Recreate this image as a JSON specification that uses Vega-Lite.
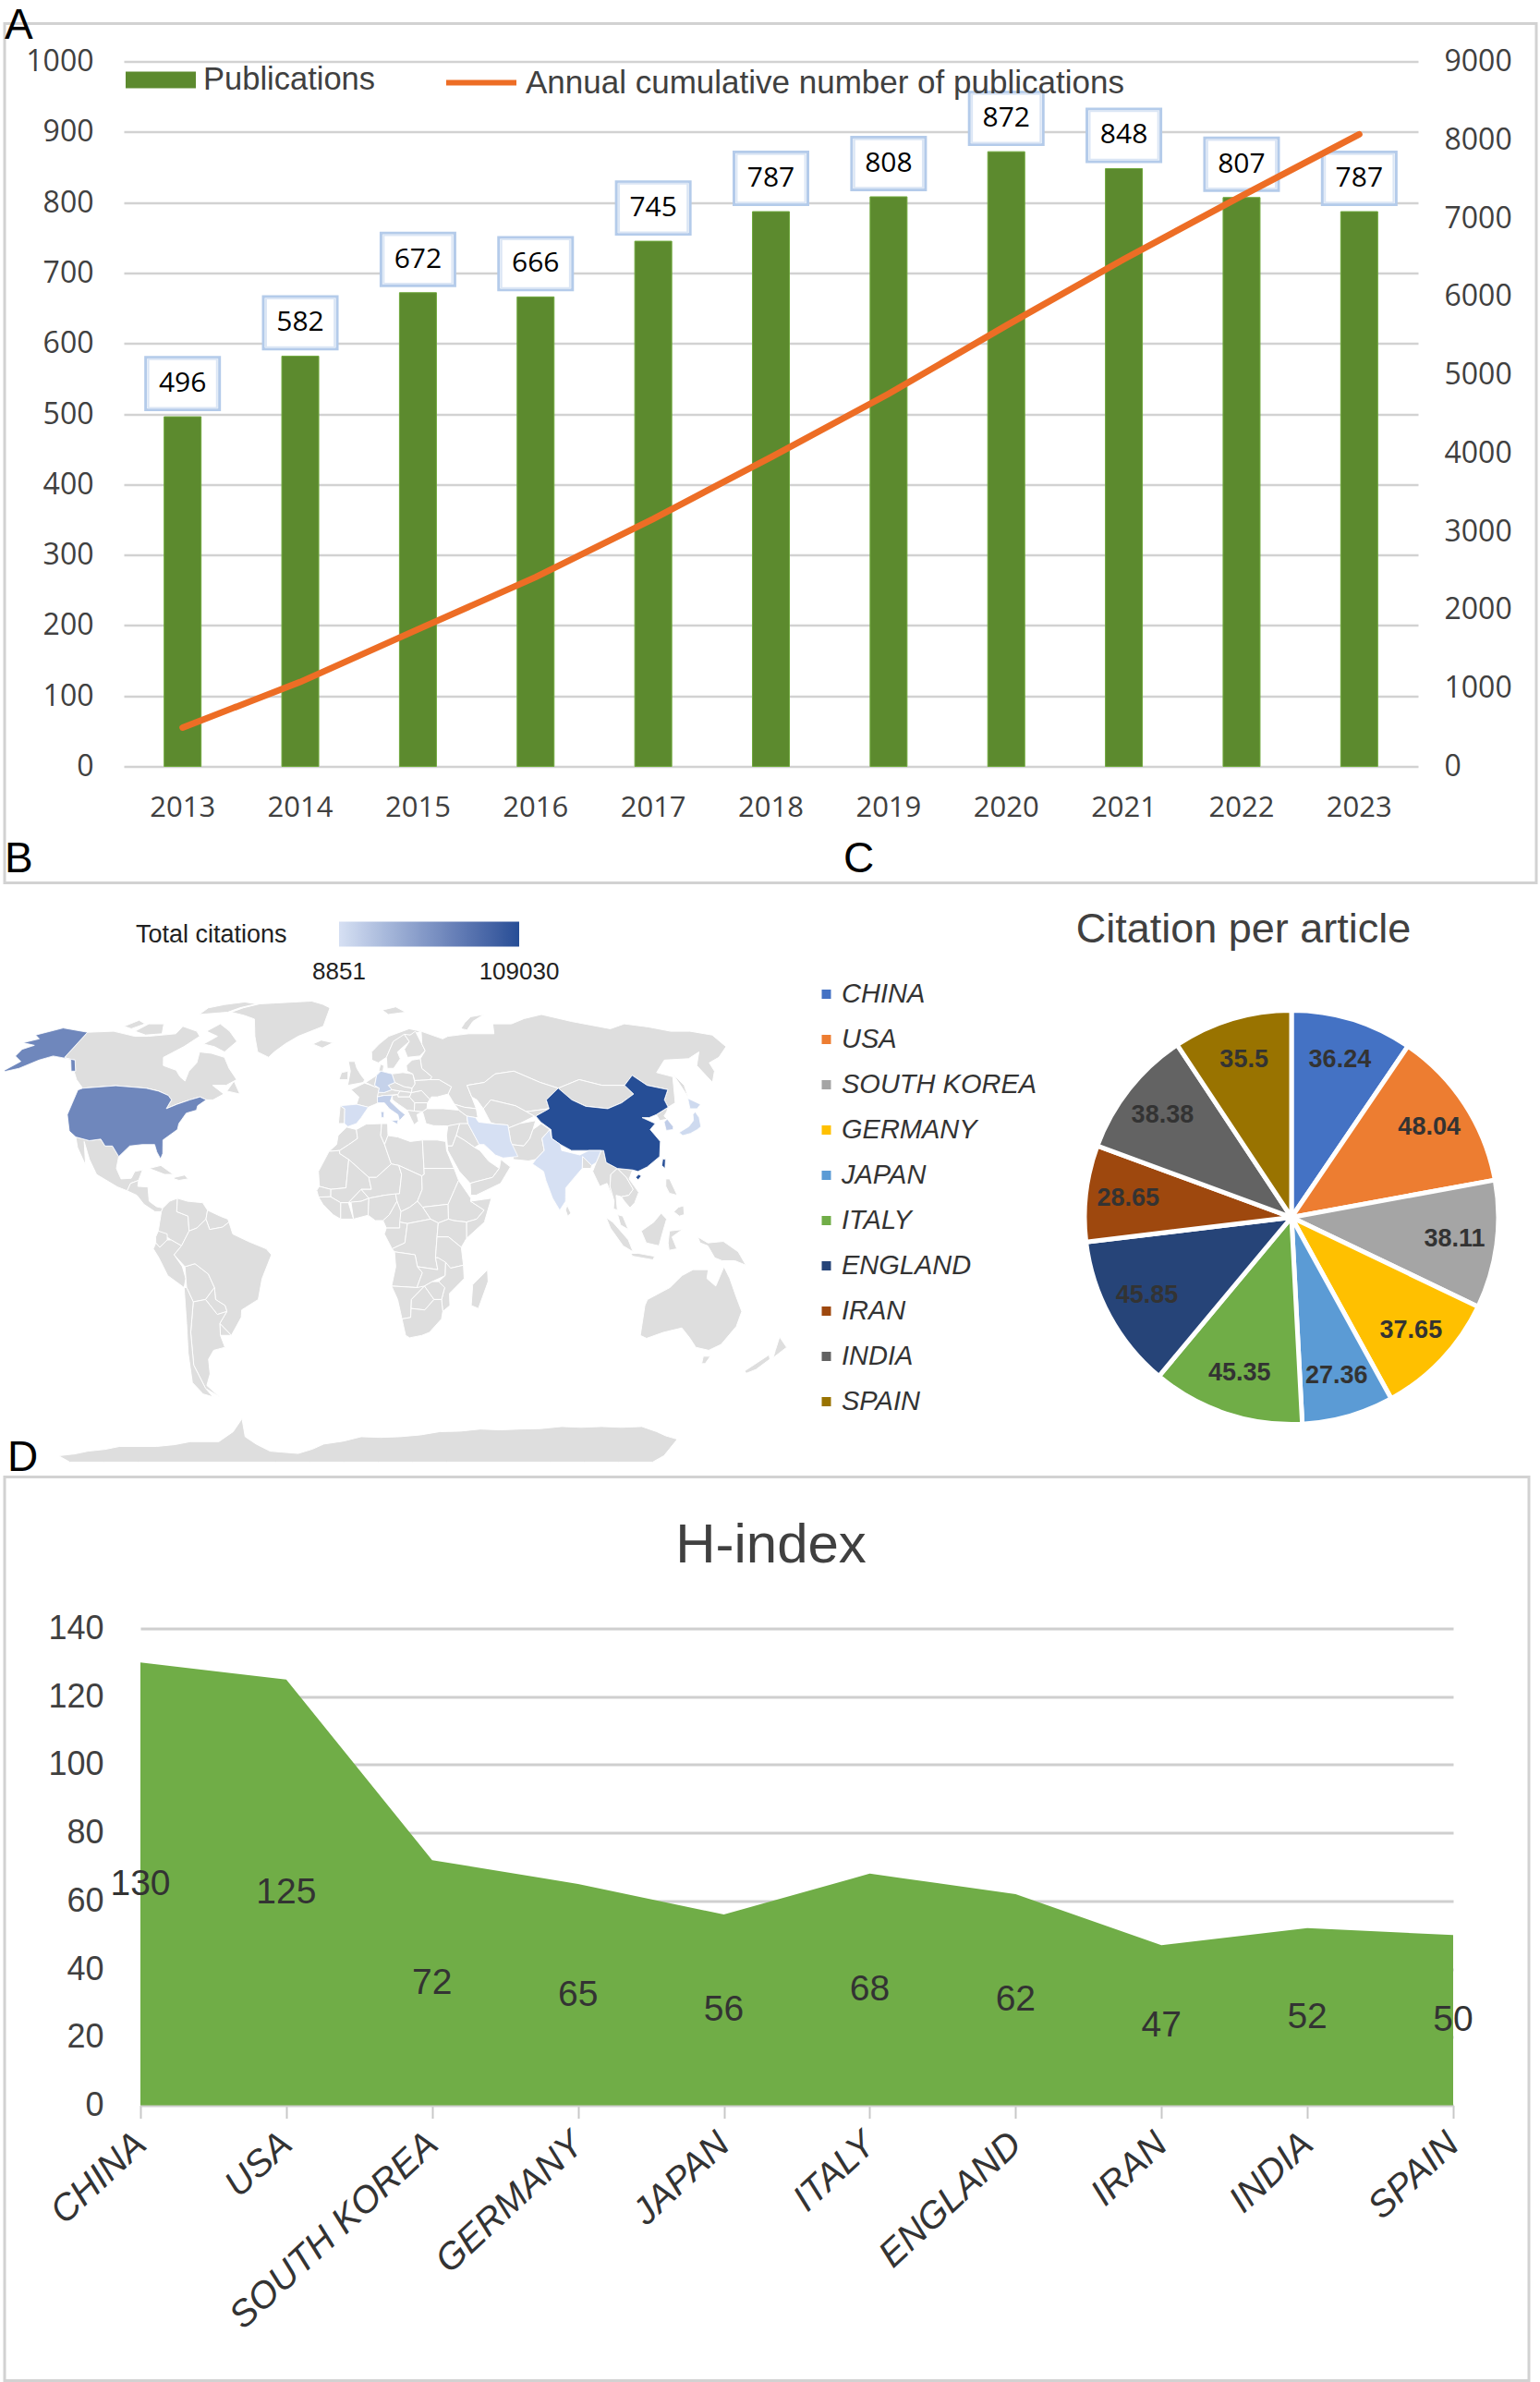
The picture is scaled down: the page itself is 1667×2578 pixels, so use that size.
{
  "$schema": "https://vega.github.io/schema/vega-lite/v6.json",
  "background": "white",
  "padding": {"left": 3, "top": 2.5, "right": 0, "bottom": 0},
  "spacing": -53,
  "config": {
    "view": {"stroke": "#d2d2d2", "strokeWidth": 3},
    "font": "Liberation Sans",
    "title": {"font": "Liberation Sans", "fontWeight": "normal", "color": "black"}
  },
  "datasets": {
    "pubs": [
      {"year": "2013", "n": 496, "cum": 496},
      {"year": "2014", "n": 582, "cum": 1078},
      {"year": "2015", "n": 672, "cum": 1750},
      {"year": "2016", "n": 666, "cum": 2416},
      {"year": "2017", "n": 745, "cum": 3161},
      {"year": "2018", "n": 787, "cum": 3948},
      {"year": "2019", "n": 808, "cum": 4756},
      {"year": "2020", "n": 872, "cum": 5628},
      {"year": "2021", "n": 848, "cum": 6476},
      {"year": "2022", "n": 807, "cum": 7283},
      {"year": "2023", "n": 787, "cum": 8070}
    ],
    "cpa": [
      {"rank": 1, "country": "CHINA", "v": 36.24},
      {"rank": 2, "country": "USA", "v": 48.04},
      {"rank": 3, "country": "SOUTH KOREA", "v": 38.11},
      {"rank": 4, "country": "GERMANY", "v": 37.65},
      {"rank": 5, "country": "JAPAN", "v": 27.36},
      {"rank": 6, "country": "ITALY", "v": 45.35},
      {"rank": 7, "country": "ENGLAND", "v": 45.85},
      {"rank": 8, "country": "IRAN", "v": 28.65},
      {"rank": 9, "country": "INDIA", "v": 38.38},
      {"rank": 10, "country": "SPAIN", "v": 35.5}
    ],
    "hindex": [
      {"country": "CHINA", "h": 130},
      {"country": "USA", "h": 125},
      {"country": "SOUTH KOREA", "h": 72},
      {"country": "GERMANY", "h": 65},
      {"country": "JAPAN", "h": 56},
      {"country": "ITALY", "h": 68},
      {"country": "ENGLAND", "h": 62},
      {"country": "IRAN", "h": 47},
      {"country": "INDIA", "h": 52},
      {"country": "SPAIN", "h": 50}
    ],
    "world": [
      {"type":"Feature","properties":{"name":"Canada"},"geometry":{"type":"Polygon","coordinates":[[[-141,60],[-141,69.6],[-128,70],[-115,68],[-108,68],[-95,69],[-94,72],[-85,70],[-82,68],[-87,64],[-94,60],[-92,57],[-85,55.3],[-82,53],[-79,51.5],[-79,55],[-77,58],[-78,62],[-72,61.5],[-65,60],[-61,56],[-56,52],[-60,50],[-66,50],[-60,47],[-64,45],[-67,45],[-70,46],[-74,45],[-79,43.5],[-83,42],[-82,45],[-84,46.5],[-89,48],[-95,49],[-123,49],[-128,52],[-133,56],[-137,59],[-141,60]]]}},
      {"type":"Feature","properties":{"name":"Baffin"},"geometry":{"type":"Polygon","coordinates":[[[-80,70],[-75,73],[-68,70],[-62,66],[-66,62],[-72,64],[-78,65],[-73,68],[-80,70]]]}},
      {"type":"Feature","properties":{"name":"Victoria"},"geometry":{"type":"Polygon","coordinates":[[[-117,70],[-113,73],[-105,73],[-102,69],[-110,68.5],[-117,70]]]}},
      {"type":"Feature","properties":{"name":"Ellesmere"},"geometry":{"type":"Polygon","coordinates":[[[-90,77],[-88,80],[-70,83],[-62,82],[-75,78],[-90,77]]]}},
      {"type":"Feature","properties":{"name":"Banks"},"geometry":{"type":"Polygon","coordinates":[[[-125,72],[-120,74.5],[-115,73],[-120,71],[-125,72]]]}},
      {"type":"Feature","properties":{"name":"Newfoundland"},"geometry":{"type":"Polygon","coordinates":[[[-59,48],[-57,51.5],[-53,47],[-59,48]]]}},
      {"type":"Feature","properties":{"name":"Alaska","citations":68000},"geometry":{"type":"Polygon","coordinates":[[[-168,65.5],[-162,67],[-166,68.5],[-156,71.3],[-141,69.6],[-141,60],[-137,59],[-133,55],[-131,55],[-135,59],[-147,60.5],[-152,59],[-158,56],[-165,54.5],[-160,58.5],[-165,60.5],[-165,63],[-161,64.5],[-168,65.5]]]}},
      {"type":"Feature","properties":{"name":"USA","citations":68000},"geometry":{"type":"Polygon","coordinates":[[[-124.7,48.4],[-123,49],[-95,49],[-89,48],[-84,46.5],[-82,45],[-83,42],[-79,43.5],[-74,45],[-70,46],[-67,45],[-70,43],[-70,41.5],[-74,40.5],[-76,37],[-76,35],[-81,31.5],[-80,27],[-80.5,25.2],[-82.5,27.5],[-84,30],[-89,30],[-94,29.5],[-97.5,26],[-101,29.5],[-104,29.5],[-106.5,31.8],[-111,31.3],[-117,32.5],[-120.5,34.5],[-124,40],[-124.7,48.4]]]}},
      {"type":"Feature","properties":{"name":"Mexico"},"geometry":{"type":"Polygon","coordinates":[[[-117,32.5],[-111,31.3],[-106.5,31.8],[-104,29.5],[-101,29.5],[-97.5,26],[-97.5,22],[-95,18.5],[-91,18.7],[-90,21],[-87,21.5],[-88,18],[-91,17],[-92,14.5],[-96,15.8],[-105,20],[-109,25],[-113,31],[-110,23],[-115,29],[-117,32.5]]]}},
      {"type":"Feature","properties":{"name":"Central America"},"geometry":{"type":"Polygon","coordinates":[[[-92,14.5],[-91,17],[-88,18],[-88,16],[-84,15.8],[-83,11],[-80,9.2],[-77.5,8.7],[-78,7.5],[-80.5,7.5],[-85,10],[-88,13],[-92,14.5]]]}},
      {"type":"Feature","properties":{"name":"Cuba"},"geometry":{"type":"Polygon","coordinates":[[[-84.5,22],[-80,23],[-74.5,20],[-78,20],[-84.5,22]]]}},
      {"type":"Feature","properties":{"name":"Hispaniola"},"geometry":{"type":"Polygon","coordinates":[[[-74,19],[-70,19.8],[-68.5,18.5],[-72,18],[-74,18.5],[-74,19]]]}},
      {"type":"Feature","properties":{"name":"Greenland"},"geometry":{"type":"Polygon","coordinates":[[[-73,78],[-60,82],[-30,83.5],[-18,80],[-20,72],[-32,68],[-42,62],[-44,60],[-50,62],[-54,68],[-58,75],[-73,78]]]}},
      {"type":"Feature","properties":{"name":"Colombia"},"geometry":{"type":"Polygon","coordinates":[[[-77.5,8.7],[-75,11],[-72,12],[-72,7.5],[-67.5,6],[-67,1],[-70,-4],[-74,-2],[-79,1],[-78,7.5],[-77.5,8.7]]]}},
      {"type":"Feature","properties":{"name":"Venezuela"},"geometry":{"type":"Polygon","coordinates":[[[-72,12],[-68,11],[-62,10.5],[-60,8],[-60.5,5],[-64,2],[-67,1],[-67.5,6],[-72,7.5],[-72,12]]]}},
      {"type":"Feature","properties":{"name":"Guianas"},"geometry":{"type":"Polygon","coordinates":[[[-60,8],[-55,6],[-52,5],[-51.5,4],[-54,2.3],[-59,1.5],[-60.5,5],[-60,8]]]}},
      {"type":"Feature","properties":{"name":"Ecuador"},"geometry":{"type":"Polygon","coordinates":[[[-80,-1],[-79,1],[-75.5,0],[-75.5,-2],[-78.5,-4.5],[-80,-3],[-80,-1]]]}},
      {"type":"Feature","properties":{"name":"Peru"},"geometry":{"type":"Polygon","coordinates":[[[-81,-5],[-80,-3],[-78.5,-4.5],[-75.5,-2],[-74,-2],[-70,-4],[-73,-7],[-70,-11],[-69,-15],[-70,-18],[-76,-14],[-79,-8],[-81,-5]]]}},
      {"type":"Feature","properties":{"name":"Bolivia"},"geometry":{"type":"Polygon","coordinates":[[[-69,-11],[-65,-10],[-60,-13.5],[-58,-18],[-62,-22],[-67,-22.8],[-69,-18],[-69,-11]]]}},
      {"type":"Feature","properties":{"name":"Brazil"},"geometry":{"type":"Polygon","coordinates":[[[-73,-7],[-70,-4],[-67,1],[-64,2],[-60.5,5],[-59,1.5],[-54,2.3],[-51.5,4],[-50,0],[-44,-2.5],[-37,-5],[-35,-7],[-39,-15],[-41,-22],[-48,-25.5],[-48.5,-28],[-53.5,-34],[-57.5,-30],[-54,-26],[-54.5,-24],[-58,-22],[-58,-18],[-60,-13.5],[-65,-10],[-69,-11],[-73,-7]]]}},
      {"type":"Feature","properties":{"name":"Paraguay"},"geometry":{"type":"Polygon","coordinates":[[[-62,-22],[-58,-18],[-58,-22],[-54.5,-24],[-54,-26],[-58,-27],[-62,-22]]]}},
      {"type":"Feature","properties":{"name":"Uruguay"},"geometry":{"type":"Polygon","coordinates":[[[-58,-34],[-57.5,-30],[-53.5,-34],[-58,-34]]]}},
      {"type":"Feature","properties":{"name":"Argentina"},"geometry":{"type":"Polygon","coordinates":[[[-70,-52],[-72,-44],[-70,-33],[-67,-22.8],[-62,-22],[-58,-27],[-54,-26],[-57.5,-30],[-58,-34],[-57,-38],[-62,-39],[-65,-42],[-66,-47],[-69,-51],[-65,-55],[-70,-52]]]}},
      {"type":"Feature","properties":{"name":"Chile"},"geometry":{"type":"Polygon","coordinates":[[[-75,-50],[-73,-40],[-71,-30],[-70,-18],[-69,-18],[-67,-22.8],[-70,-33],[-72,-44],[-70,-52],[-68,-55],[-72,-54],[-75,-50]]]}},
      {"type":"Feature","properties":{"name":"Morocco"},"geometry":{"type":"Polygon","coordinates":[[[-13,27.7],[-10,30],[-9.5,33],[-6,35.8],[-2,35],[-1.5,32],[-5,30],[-8.7,28],[-13,27.7]]]}},
      {"type":"Feature","properties":{"name":"Mauritania"},"geometry":{"type":"Polygon","coordinates":[[[-17,21],[-13,27.7],[-8.7,28],[-8.7,27],[-5,25],[-6,15.5],[-12,15],[-16.5,16],[-17,21]]]}},
      {"type":"Feature","properties":{"name":"Algeria"},"geometry":{"type":"Polygon","coordinates":[[[-8.7,28],[-5,30],[-1.5,32],[-2,35],[2,36.8],[8.5,37],[8,33],[9.5,30],[12,23.5],[6,19],[3,19],[-5,25],[-8.7,27],[-8.7,28]]]}},
      {"type":"Feature","properties":{"name":"Tunisia"},"geometry":{"type":"Polygon","coordinates":[[[8,33],[8.5,37],[11,37],[11,33],[9.5,30],[8,33]]]}},
      {"type":"Feature","properties":{"name":"Libya"},"geometry":{"type":"Polygon","coordinates":[[[9.5,30],[11,33],[15,32.5],[20,31],[25,31.5],[25,20],[24,19.5],[15,23],[12,23.5],[9.5,30]]]}},
      {"type":"Feature","properties":{"name":"Egypt"},"geometry":{"type":"Polygon","coordinates":[[[25,31.5],[31,31.5],[34.5,31],[34.5,28],[37,22],[25,22],[25,31.5]]]}},
      {"type":"Feature","properties":{"name":"Mali"},"geometry":{"type":"Polygon","coordinates":[[[-12,15],[-6,15.5],[-5,25],[3,19],[4,15],[0,15],[-5,10.5],[-8,10.5],[-12,12.5],[-12,15]]]}},
      {"type":"Feature","properties":{"name":"Senegal"},"geometry":{"type":"Polygon","coordinates":[[[-17.5,14.7],[-16.5,16],[-12,15],[-12,12.5],[-16.7,12.4],[-17.5,14.7]]]}},
      {"type":"Feature","properties":{"name":"Guinea"},"geometry":{"type":"Polygon","coordinates":[[[-16.7,12.4],[-12,12.5],[-8,10.5],[-8,5],[-11,6.5],[-15,10],[-16.7,12.4]]]}},
      {"type":"Feature","properties":{"name":"Burkina"},"geometry":{"type":"Polygon","coordinates":[[[-5,10.5],[0,15],[3,12],[0,11],[-5,10.5]]]}},
      {"type":"Feature","properties":{"name":"Ivory Coast"},"geometry":{"type":"Polygon","coordinates":[[[-8,10.5],[-5,10.5],[-3,5],[-8,5],[-8,10.5]]]}},
      {"type":"Feature","properties":{"name":"Ghana"},"geometry":{"type":"Polygon","coordinates":[[[-3,5],[-4,10.7],[0,11],[3,12],[2.7,6.3],[-3,5]]]}},
      {"type":"Feature","properties":{"name":"Niger"},"geometry":{"type":"Polygon","coordinates":[[[3,19],[6,19],[12,23.5],[15,23],[16,20],[15,13.5],[9,13],[3,12],[0,15],[4,15],[3,19]]]}},
      {"type":"Feature","properties":{"name":"Nigeria"},"geometry":{"type":"Polygon","coordinates":[[[2.7,6.3],[3,12],[9,13],[13.5,13.5],[14,11],[11,6.5],[8.5,4.5],[5.5,4.5],[2.7,6.3]]]}},
      {"type":"Feature","properties":{"name":"Chad"},"geometry":{"type":"Polygon","coordinates":[[[15,13.5],[16,20],[15,23],[24,19.5],[24,15],[22,11],[19,9],[15.5,7.5],[14,11],[13.5,13.5],[15,13.5]]]}},
      {"type":"Feature","properties":{"name":"Sudan"},"geometry":{"type":"Polygon","coordinates":[[[24,19.5],[25,20],[25,22],[37,22],[38.5,18],[36.5,14.5],[34,10],[24,9],[22,11],[24,15],[24,19.5]]]}},
      {"type":"Feature","properties":{"name":"South Sudan"},"geometry":{"type":"Polygon","coordinates":[[[24,9],[34,10],[34,5],[30,3.7],[27,5],[24,9]]]}},
      {"type":"Feature","properties":{"name":"Ethiopia"},"geometry":{"type":"Polygon","coordinates":[[[34,10],[36.5,14.5],[38.5,18],[43,12],[42.8,11],[48,8],[45,5],[41,4],[36,4.5],[34,5],[34,10]]]}},
      {"type":"Feature","properties":{"name":"Somalia"},"geometry":{"type":"Polygon","coordinates":[[[42.8,11],[51,12],[48,4],[41,-1.5],[41,4],[45,5],[48,8],[42.8,11]]]}},
      {"type":"Feature","properties":{"name":"Cameroon"},"geometry":{"type":"Polygon","coordinates":[[[8.5,4.5],[11,6.5],[14,11],[15.5,7.5],[15,2],[9.8,2],[8.5,4.5]]]}},
      {"type":"Feature","properties":{"name":"CAR"},"geometry":{"type":"Polygon","coordinates":[[[15.5,7.5],[19,9],[22,11],[24,9],[27,5],[18,3.5],[15,4],[15.5,7.5]]]}},
      {"type":"Feature","properties":{"name":"Gabon"},"geometry":{"type":"Polygon","coordinates":[[[9,0],[9.8,2],[15,2],[15,4],[18,3.5],[17,-3],[12,-5],[9,0]]]}},
      {"type":"Feature","properties":{"name":"DRC"},"geometry":{"type":"Polygon","coordinates":[[[12,-5],[17,-3],[18,3.5],[27,5],[30,3.7],[29.5,-1],[29,-8],[30,-12],[22,-11],[21,-7],[13,-6],[12,-5]]]}},
      {"type":"Feature","properties":{"name":"Kenya"},"geometry":{"type":"Polygon","coordinates":[[[29.5,-1],[30,3.7],[34,5],[36,4.5],[41,4],[41,-1.5],[39,-4.5],[34,-1],[29.5,-1]]]}},
      {"type":"Feature","properties":{"name":"Tanzania"},"geometry":{"type":"Polygon","coordinates":[[[29.5,-1],[34,-1],[39,-4.5],[40,-10.5],[35,-11.5],[30,-8],[29,-8],[29.5,-1]]]}},
      {"type":"Feature","properties":{"name":"Angola"},"geometry":{"type":"Polygon","coordinates":[[[13,-6],[21,-7],[22,-11],[24,-13],[22,-18],[12,-17.5],[13.5,-11],[13,-6]]]}},
      {"type":"Feature","properties":{"name":"Zambia"},"geometry":{"type":"Polygon","coordinates":[[[22,-11],[30,-12],[29,-8],[30,-8],[33,-9.5],[33,-14],[28,-16],[24,-18],[22,-18],[24,-13],[22,-11]]]}},
      {"type":"Feature","properties":{"name":"Mozambique"},"geometry":{"type":"Polygon","coordinates":[[[33,-9.5],[35,-11.5],[40,-10.5],[40.5,-15],[35,-20],[35.5,-24],[32.8,-26],[32,-22],[33,-18],[30.5,-16],[33,-14],[33,-9.5]]]}},
      {"type":"Feature","properties":{"name":"Namibia"},"geometry":{"type":"Polygon","coordinates":[[[12,-17.5],[22,-18],[25,-17.5],[20,-22],[20,-28],[16.5,-28.5],[14.5,-22],[12,-17.5]]]}},
      {"type":"Feature","properties":{"name":"Botswana"},"geometry":{"type":"Polygon","coordinates":[[[20,-22],[25,-17.5],[29,-22],[25.5,-25.5],[20,-25],[20,-22]]]}},
      {"type":"Feature","properties":{"name":"Zimbabwe"},"geometry":{"type":"Polygon","coordinates":[[[25,-17.5],[28,-16],[30.5,-16],[33,-18],[32,-22],[29,-22],[25,-17.5]]]}},
      {"type":"Feature","properties":{"name":"South Africa"},"geometry":{"type":"Polygon","coordinates":[[[16.5,-28.5],[20,-28],[20,-25],[25.5,-25.5],[29,-22],[32,-22],[32.8,-26],[32.5,-28.5],[28,-33],[25,-34],[20,-34.8],[18.3,-34],[16.5,-28.5]]]}},
      {"type":"Feature","properties":{"name":"Madagascar"},"geometry":{"type":"Polygon","coordinates":[[[44,-17],[49.5,-12],[50,-16],[47,-25],[44,-24],[44,-17]]]}},
      {"type":"Feature","properties":{"name":"Spain","citations":10000},"geometry":{"type":"Polygon","coordinates":[[[-9,43],[-2,43.5],[3,42.5],[0,39],[-2,37],[-5.5,36],[-7,37],[-7,42],[-9,43]]]}},
      {"type":"Feature","properties":{"name":"Portugal"},"geometry":{"type":"Polygon","coordinates":[[[-9.5,37],[-9,43],[-7,42],[-7,37],[-9.5,37]]]}},
      {"type":"Feature","properties":{"name":"France"},"geometry":{"type":"Polygon","coordinates":[[[-4.5,48.5],[1.5,50.8],[8,49],[7.5,44],[3,42.5],[-2,43.5],[-1,46],[-4.5,48.5]]]}},
      {"type":"Feature","properties":{"name":"Benelux"},"geometry":{"type":"Polygon","coordinates":[[[2,51],[4,52],[7,53.5],[7,50],[6,49.5],[2,51]]]}},
      {"type":"Feature","properties":{"name":"Germany","citations":18000},"geometry":{"type":"Polygon","coordinates":[[[6,50],[7,53.5],[9,55],[14,54],[15,51],[12,50],[13.5,48.5],[10,47.5],[7.5,47.6],[8,49],[6,50]]]}},
      {"type":"Feature","properties":{"name":"Austria"},"geometry":{"type":"Polygon","coordinates":[[[7.5,47.6],[10,47.5],[13.5,48.5],[17,48],[16,46.8],[10,46.5],[7,46],[7.5,47.6]]]}},
      {"type":"Feature","properties":{"name":"Italy","citations":20000},"geometry":{"type":"Polygon","coordinates":[[[7,44],[7,46],[10,46.5],[13.5,46.5],[12.5,44.5],[16,41.7],[18.5,40],[16,38],[15.5,40],[12,42],[10,44],[7,44]]]}},
      {"type":"Feature","properties":{"name":"Sicily","citations":20000},"geometry":{"type":"Polygon","coordinates":[[[12.5,38],[15.5,38.2],[15,36.8],[12.5,38]]]}},
      {"type":"Feature","properties":{"name":"Sardinia","citations":20000},"geometry":{"type":"Polygon","coordinates":[[[8.3,41],[9.7,41],[9.5,39],[8.5,39],[8.3,41]]]}},
      {"type":"Feature","properties":{"name":"UK"},"geometry":{"type":"Polygon","coordinates":[[[-6,50],[-5,55],[-6,58.5],[-3,58.5],[-2,56],[0,53.5],[1.5,52],[1,51],[-6,50]]]}},
      {"type":"Feature","properties":{"name":"Ireland"},"geometry":{"type":"Polygon","coordinates":[[[-10,52],[-9,54.5],[-6,55],[-6,52],[-10,52]]]}},
      {"type":"Feature","properties":{"name":"Iceland"},"geometry":{"type":"Polygon","coordinates":[[[-24,65],[-20,66.5],[-14,65.5],[-19,63.5],[-24,65]]]}},
      {"type":"Feature","properties":{"name":"Norway"},"geometry":{"type":"Polygon","coordinates":[[[5,59],[5,62],[14,68],[25,71],[31,70],[25,68.5],[16,66],[12,60],[8,58],[5,59]]]}},
      {"type":"Feature","properties":{"name":"Sweden"},"geometry":{"type":"Polygon","coordinates":[[[12,56],[12,60],[16,66],[22,68.8],[24,66],[17.5,62],[18.5,59.5],[15,56],[12,56]]]}},
      {"type":"Feature","properties":{"name":"Finland"},"geometry":{"type":"Polygon","coordinates":[[[22,60],[21,63],[24,66],[22,68.8],[25,68.5],[28,70],[30,65],[31,62.5],[28,60.5],[22,60]]]}},
      {"type":"Feature","properties":{"name":"Denmark"},"geometry":{"type":"Polygon","coordinates":[[[8,55],[9,57.5],[10.5,57],[10,55],[8,55]]]}},
      {"type":"Feature","properties":{"name":"Poland"},"geometry":{"type":"Polygon","coordinates":[[[14,54],[19,54.5],[23.5,54],[24,50.5],[22.5,49],[19,49.5],[15,51],[14,54]]]}},
      {"type":"Feature","properties":{"name":"Czechia"},"geometry":{"type":"Polygon","coordinates":[[[12,50],[15,51],[19,49.5],[22.5,49],[22,47.5],[17,48],[13.5,48.5],[12,50]]]}},
      {"type":"Feature","properties":{"name":"Hungary"},"geometry":{"type":"Polygon","coordinates":[[[16,46.8],[17,48],[22,47.5],[21,46],[16,46],[16,46.8]]]}},
      {"type":"Feature","properties":{"name":"Balkans"},"geometry":{"type":"Polygon","coordinates":[[[13.5,46.5],[16,46.8],[16,46],[21,46],[23,44],[22.5,41.2],[19.5,41.5],[16,43.5],[13.5,45],[13.5,46.5]]]}},
      {"type":"Feature","properties":{"name":"Greece"},"geometry":{"type":"Polygon","coordinates":[[[19.5,41.5],[22.5,41.2],[26,41],[23.5,40],[24,37.8],[22,36.6],[21,38.5],[19.5,41.5]]]}},
      {"type":"Feature","properties":{"name":"Romania"},"geometry":{"type":"Polygon","coordinates":[[[21,46],[22,47.5],[26.5,48.2],[29.7,45.2],[28.5,44],[23,44],[21,46]]]}},
      {"type":"Feature","properties":{"name":"Bulgaria"},"geometry":{"type":"Polygon","coordinates":[[[23,44],[28.5,44],[28,42],[26,41],[22.5,41.2],[23,44]]]}},
      {"type":"Feature","properties":{"name":"Ukraine"},"geometry":{"type":"Polygon","coordinates":[[[22.5,49],[24,50.5],[24,51.7],[31,52],[35,52],[40,49.5],[38,47],[33,46],[30.5,46],[29.7,45.2],[26.5,48.2],[22,47.5],[22.5,49]]]}},
      {"type":"Feature","properties":{"name":"Belarus"},"geometry":{"type":"Polygon","coordinates":[[[23.5,54],[21,55],[21,57],[24,59],[28,59.5],[28,56],[32,53],[31,52],[24,51.7],[23.5,54]]]}},
      {"type":"Feature","properties":{"name":"Turkey"},"geometry":{"type":"Polygon","coordinates":[[[26,41],[28,42],[35,42],[41.5,41.5],[44.5,39.5],[44.5,37],[36,36.2],[30,36.3],[27,37],[26,41]]]}},
      {"type":"Feature","properties":{"name":"Russia"},"geometry":{"type":"Polygon","coordinates":[[[28,56],[28,59.5],[31,62.5],[30,65],[31,70],[41,67],[44,68],[55,69],[68,69],[70,73],[80,73],[100,77],[113,74],[130,71],[140,73],[160,70],[170,70],[179,68.5],[179,64],[170,60],[163,58],[162,55],[157,51],[156,57],[163,62],[155,59.5],[143,59],[135,54.5],[141,53],[135,44],[131,42.5],[131,45],[135,48.5],[127,50],[123,53.5],[117,50],[107,50],[98,52],[87,49],[80,51],[70,55],[61,54],[55,51],[47,50],[48,46],[49,42],[44,42.5],[40,43.5],[38,47],[40,49.5],[35,52],[31,52],[32,53],[28,56]]]}},
      {"type":"Feature","properties":{"name":"Kazakhstan"},"geometry":{"type":"Polygon","coordinates":[[[47,50],[55,51],[61,54],[70,55],[80,51],[87,49],[80,45],[80,42],[70,41],[66,43],[56,45],[52,42],[50,45],[48,46],[47,50]]]}},
      {"type":"Feature","properties":{"name":"Uzbekistan"},"geometry":{"type":"Polygon","coordinates":[[[52,42],[56,45],[66,43],[70,41],[73,39.5],[66,37],[61,35.5],[54,37.3],[52,42]]]}},
      {"type":"Feature","properties":{"name":"Kyrgyzstan"},"geometry":{"type":"Polygon","coordinates":[[[70,41],[80,42],[75,37.5],[73,39.5],[70,41]]]}},
      {"type":"Feature","properties":{"name":"Mongolia"},"geometry":{"type":"Polygon","coordinates":[[[87,49],[98,52],[107,50],[117,50],[119,47],[112,44],[105,42],[96,42.8],[91,45],[87,49]]]}},
      {"type":"Feature","properties":{"name":"China","citations":109030},"geometry":{"type":"Polygon","coordinates":[[[73.5,39.5],[80,42],[80,45],[87,49],[91,45],[96,42.8],[105,42],[112,44],[119,47],[117,50],[123,53.5],[127,50],[135,48.5],[131,45],[131,42.5],[124.5,40],[121,39],[118,39],[122.5,37],[119.5,35],[122,31],[120,26],[114,22.5],[110,21],[108,21.5],[102,22],[98,24],[98,28],[92,28],[85,28],[81,30],[78,32],[78.5,35],[75,37.5],[73.5,39.5]]]}},
      {"type":"Feature","properties":{"name":"Taiwan","citations":109030},"geometry":{"type":"Polygon","coordinates":[[[120,23],[121,25.2],[122,25],[121,22],[120,23]]]}},
      {"type":"Feature","properties":{"name":"Hainan","citations":109030},"geometry":{"type":"Polygon","coordinates":[[[108.7,19],[110,20],[111,19.5],[109.5,18.2],[108.7,19]]]}},
      {"type":"Feature","properties":{"name":"North Korea"},"geometry":{"type":"Polygon","coordinates":[[[124.5,40],[131,42.5],[129.5,41],[127.5,39.5],[128.3,38.5],[125,38],[124.5,40]]]}},
      {"type":"Feature","properties":{"name":"South Korea","citations":21000},"geometry":{"type":"Polygon","coordinates":[[[126,34.7],[126.5,37.5],[128.3,38.5],[129.5,36],[129,35],[126,34.7]]]}},
      {"type":"Feature","properties":{"name":"Honshu","citations":13000},"geometry":{"type":"Polygon","coordinates":[[[131,34],[136,36],[139,38],[140,40],[141.5,41],[142,39],[141,36],[139,35],[135.5,33.7],[132,33],[131,34]]]}},
      {"type":"Feature","properties":{"name":"Hokkaido","citations":13000},"geometry":{"type":"Polygon","coordinates":[[[140,42],[141.5,45.5],[145.5,43.5],[143,42],[140,42]]]}},
      {"type":"Feature","properties":{"name":"Sakhalin"},"geometry":{"type":"Polygon","coordinates":[[[142,46],[142,54],[143.5,50],[142,46]]]}},
      {"type":"Feature","properties":{"name":"Iran","citations":9000},"geometry":{"type":"Polygon","coordinates":[[[44.5,39.5],[48,39],[49,37.5],[54,37],[61,36.5],[61,31],[63,26],[57,25.5],[54,26.5],[50,30],[48,30],[46,34],[44.5,37],[44.5,39.5]]]}},
      {"type":"Feature","properties":{"name":"Caucasus"},"geometry":{"type":"Polygon","coordinates":[[[40,43.5],[44,42.5],[49,42],[49,39],[48,39],[44.5,39.5],[41.5,41.5],[40,43.5]]]}},
      {"type":"Feature","properties":{"name":"Iraq"},"geometry":{"type":"Polygon","coordinates":[[[39,33],[41,37],[44.5,37],[46,34],[48,30],[46,29],[42,31.5],[39,33]]]}},
      {"type":"Feature","properties":{"name":"Syria"},"geometry":{"type":"Polygon","coordinates":[[[36,36.2],[41,37],[39,33],[37,29.5],[35,29.5],[35,33],[36,36.2]]]}},
      {"type":"Feature","properties":{"name":"Saudi Arabia"},"geometry":{"type":"Polygon","coordinates":[[[35,29.5],[37,29.5],[39,33],[42,31.5],[46,29],[48,28],[51,24.5],[55,22],[52,19],[45,17.5],[43,17],[39,21],[35,28],[35,29.5]]]}},
      {"type":"Feature","properties":{"name":"Oman"},"geometry":{"type":"Polygon","coordinates":[[[43,17],[45,17.5],[52,19],[55,22],[56,25],[59.5,22.5],[55,17],[45,13],[43,13],[43,17]]]}},
      {"type":"Feature","properties":{"name":"Afghanistan"},"geometry":{"type":"Polygon","coordinates":[[[61,35.5],[66,37],[73,38],[71,35],[69,32],[66,29.5],[61,30],[61,35.5]]]}},
      {"type":"Feature","properties":{"name":"Pakistan"},"geometry":{"type":"Polygon","coordinates":[[[61,25],[61,30],[66,29.5],[69,32],[71,35],[75,37],[78,35],[74,32],[74,28],[70,25],[67,24.5],[61,25]]]}},
      {"type":"Feature","properties":{"name":"India","citations":8851},"geometry":{"type":"Polygon","coordinates":[[[68.5,23.5],[70,25],[74,28],[74,32],[78,35],[78,32],[81,30],[81,28],[88,26.5],[92,28],[97,28],[94,24],[92,23],[89,26],[88,22],[85,19.5],[80.5,15.5],[80,11],[77.5,8],[75,12],[73,18],[72.5,21],[68.5,23.5]]]}},
      {"type":"Feature","properties":{"name":"Bangladesh"},"geometry":{"type":"Polygon","coordinates":[[[88,22],[89,26],[92,23],[91.5,22],[88,22]]]}},
      {"type":"Feature","properties":{"name":"Sri Lanka"},"geometry":{"type":"Polygon","coordinates":[[[79.8,8],[80.5,9.7],[81.8,7],[80.5,6],[79.8,8]]]}},
      {"type":"Feature","properties":{"name":"Myanmar"},"geometry":{"type":"Polygon","coordinates":[[[92,21],[94,24],[97,28],[98,28],[98,24],[102,22],[99,20],[98,16],[99,11],[97,17],[94,16],[92,21]]]}},
      {"type":"Feature","properties":{"name":"Thailand"},"geometry":{"type":"Polygon","coordinates":[[[99,20],[102,22],[105,19],[107,15],[105,13],[102,12.5],[100,13],[100,8],[98.5,8.5],[99,11],[98,16],[99,20]]]}},
      {"type":"Feature","properties":{"name":"Vietnam"},"geometry":{"type":"Polygon","coordinates":[[[102,22],[108,21.5],[106,18.5],[109,14],[107,10.5],[105,8.8],[103,11],[102,12.5],[105,13],[107,15],[105,19],[102,22]]]}},
      {"type":"Feature","properties":{"name":"Malaysia"},"geometry":{"type":"Polygon","coordinates":[[[100,6.5],[102,6],[104,1.5],[101,3],[100,6.5]]]}},
      {"type":"Feature","properties":{"name":"Sumatra"},"geometry":{"type":"Polygon","coordinates":[[[95.5,5.5],[98,4],[104,-2],[106,-6],[102,-4],[97,2],[95.5,5.5]]]}},
      {"type":"Feature","properties":{"name":"Borneo"},"geometry":{"type":"Polygon","coordinates":[[[109,1],[114,4],[117,7],[119,5],[117.5,1],[116,-4],[111,-3],[109,1]]]}},
      {"type":"Feature","properties":{"name":"Java"},"geometry":{"type":"Polygon","coordinates":[[[105,-6.5],[108,-6.5],[114.5,-7.5],[114,-8.7],[106,-7.5],[105,-6.5]]]}},
      {"type":"Feature","properties":{"name":"Sulawesi"},"geometry":{"type":"Polygon","coordinates":[[[119.5,-3],[120,1],[125,1.5],[121,-1],[123,-5],[120,-5.5],[119.5,-3]]]}},
      {"type":"Feature","properties":{"name":"Luzon"},"geometry":{"type":"Polygon","coordinates":[[[120,16],[120.5,18.5],[122,18.5],[124,13],[121,13.7],[120,16]]]}},
      {"type":"Feature","properties":{"name":"Mindanao"},"geometry":{"type":"Polygon","coordinates":[[[122,7.5],[124,9],[126,9.5],[126,6.5],[124,6],[122,7.5]]]}},
      {"type":"Feature","properties":{"name":"New Guinea"},"geometry":{"type":"Polygon","coordinates":[[[131,-1],[135,-3],[141,-2.5],[147,-6],[150.5,-10.5],[146,-9],[141,-9],[138,-8],[135,-4],[132,-3],[131,-1]]]}},
      {"type":"Feature","properties":{"name":"Australia"},"geometry":{"type":"Polygon","coordinates":[[[113.5,-24],[114,-22],[122,-18],[126,-14],[130,-12],[136,-12],[136,-15],[140,-17.5],[142,-11],[145,-15],[149,-21],[153,-26],[153,-31],[150,-37],[146,-39],[140,-38],[136,-35],[131,-31.5],[124,-33],[118,-35],[115,-34],[113.5,-24]]]}},
      {"type":"Feature","properties":{"name":"Tasmania"},"geometry":{"type":"Polygon","coordinates":[[[145,-41],[148,-41],[147.5,-43.5],[146,-43.5],[145,-41]]]}},
      {"type":"Feature","properties":{"name":"NZ North"},"geometry":{"type":"Polygon","coordinates":[[[172.7,-34.5],[178,-38],[175,-41.5],[174,-39],[172.7,-34.5]]]}},
      {"type":"Feature","properties":{"name":"NZ South"},"geometry":{"type":"Polygon","coordinates":[[[166.5,-46],[172.5,-40.5],[174,-42],[171,-45.5],[168,-46.8],[166.5,-46]]]}},
      {"type":"Feature","properties":{"name":"Svalbard"},"geometry":{"type":"Polygon","coordinates":[[[12,79],[20,80.5],[25,78],[15,77],[12,79]]]}},
      {"type":"Feature","properties":{"name":"Novaya Zemlya"},"geometry":{"type":"Polygon","coordinates":[[[52,71],[60,76],[68,77],[60,74],[55,70.5],[52,71]]]}},
      {"type":"Feature","properties":{"name":"Antarctica"},"geometry":{"type":"Polygon","coordinates":[[[-170,-81],[-170,-78],[-150,-76],[-130,-74],[-110,-74],[-90,-72],[-75,-72],[-65,-68],[-58,-63],[-60,-70],[-50,-76],[-35,-77],[-20,-73],[0,-70],[20,-70],[40,-68],[60,-67],[80,-67],[100,-66],[120,-66],[140,-66],[150,-68],[165,-71],[170,-78],[170,-81],[150,-81],[130,-81],[110,-81],[90,-81],[70,-81],[50,-81],[30,-81],[10,-81],[-10,-81],[-30,-81],[-50,-81],[-70,-81],[-90,-81],[-110,-81],[-130,-81],[-150,-81],[-170,-81]]]}}
    ]
  },
  "vconcat": [
    {
      "width": 1658,
      "height": 930,
      "title": {"text": "A", "anchor": "start", "frame": "group", "fontSize": 46, "offset": -72, "baseline": "bottom"},
      "data": {"name": "pubs"},
      "encoding": {
        "x": {
          "field": "year",
          "type": "nominal",
          "scale": {"range": [129, 1530]},
          "axis": {"title": null, "orient": "bottom", "offset": -126, "labelAngle": 0, "ticks": false, "domain": false, "labelPadding": 30, "labelFont": "Open Sans", "labelFontSize": 31, "labelColor": "#404040"}
        }
      },
      "layer": [
        {
          "encoding": {
            "y": {
              "field": "n",
              "type": "quantitative",
              "scale": {"domain": [0, 1000], "range": [804, 41], "nice": false},
              "axis": {"title": null, "orient": "left", "offset": -129, "format": "d", "values": [0, 100, 200, 300, 400, 500, 600, 700, 800, 900, 1000], "tickSize": -1401, "tickColor": "#d2d2d2", "tickWidth": 2.5, "domain": false, "grid": false, "labelPadding": 1434, "labelFont": "Open Sans", "labelFontSize": 32, "labelColor": "#404040"}
            }
          },
          "layer": [
            {
              "mark": {"type": "bar", "width": 40, "stroke": "#6fa83c", "strokeWidth": 1},
              "encoding": {
                "fill": {
                  "datum": "Publications",
                  "scale": {"domain": ["Publications"], "range": ["#5c8a2e"]},
                  "legend": {"title": null, "orient": "none", "legendX": 131, "legendY": 23, "symbolType": "M-1,-0.24H1V0.24H-1Z", "symbolSize": 5776, "symbolStrokeWidth": 0, "labelFontSize": 34.5, "labelColor": "#404040", "labelFont": "Liberation Sans", "labelOffset": 8, "labelLimit": 400}
                }
              }
            },
            {
              "mark": {"type": "point", "filled": false, "shape": "M-1,-0.71H1V0.71H-1Z", "size": 6400, "yOffset": -36, "fill": "white", "fillOpacity": 1, "stroke": "#b4cbea", "strokeWidth": 3, "opacity": 1}
            },
            {
              "mark": {"type": "point", "filled": false, "shape": "M-1,-0.71H1V0.71H-1Z", "size": 5500, "yOffset": -36, "fill": "white", "fillOpacity": 1, "stroke": "#dbe6f5", "strokeWidth": 2, "opacity": 1}
            },
            {
              "mark": {"type": "text", "yOffset": -36, "font": "Open Sans", "fontSize": 30, "color": "black"},
              "encoding": {"text": {"field": "n", "type": "quantitative"}}
            }
          ]
        },
        {
          "mark": {"type": "line", "strokeWidth": 7, "strokeCap": "round"},
          "encoding": {
            "y": {
              "field": "cum",
              "type": "quantitative",
              "scale": {"domain": [0, 9000], "range": [804, 41], "nice": false},
              "axis": {"title": null, "orient": "right", "offset": -128, "format": "d", "values": [0, 1000, 2000, 3000, 4000, 5000, 6000, 7000, 8000, 9000], "ticks": false, "domain": false, "grid": false, "labelPadding": 28, "labelFont": "Open Sans", "labelFontSize": 32, "labelColor": "#404040"}
            },
            "stroke": {
              "datum": "Annual cumulative number of publications",
              "scale": {"domain": ["Annual cumulative number of publications"], "range": ["#ed6d25"]},
              "legend": {"title": null, "orient": "none", "legendX": 475, "legendY": 23, "symbolType": "stroke", "symbolSize": 5776, "symbolStrokeWidth": 6, "labelFontSize": 35, "labelColor": "#404040", "labelFont": "Liberation Sans", "labelOffset": 7, "labelLimit": 800}
            }
          }
        }
      ],
      "resolve": {"scale": {"y": "independent"}, "axis": {"y": "independent"}}
    },
    {
      "bounds": "flush",
      "spacing": 0,
      "hconcat": [
        {
          "width": 870,
          "height": 641,
          "view": {"stroke": null},
          "title": {"text": "B", "anchor": "start", "frame": "group", "fontSize": 46, "offset": -42, "baseline": "bottom"},
          "projection": {"type": "naturalEarth1", "scale": 183, "translate": [386, 378]},
          "data": {"name": "world"},
          "layer": [
            {"mark": {"type": "geoshape", "fill": "#dedede", "stroke": "white", "strokeWidth": 1}},
            {
              "transform": [{"filter": "datum.properties.citations > 0"}],
              "mark": {"type": "geoshape", "stroke": "white", "strokeWidth": 0.8},
              "encoding": {
                "color": {
                  "field": "properties.citations",
                  "type": "quantitative",
                  "scale": {"domain": [8851, 109030], "range": ["#d6e0f3", "#264e96"]},
                  "legend": {"title": "Total citations", "orient": "none", "legendX": 142, "legendY": 40, "direction": "horizontal", "titleOrient": "left", "titleFontSize": 27, "titleFontWeight": "normal", "titleColor": "#222222", "titlePadding": 56, "gradientLength": 195, "gradientThickness": 27, "values": [8851, 109030], "format": "d", "labelFontSize": 26, "labelColor": "#222222", "labelOffset": 14, "gradientStrokeWidth": 0, "encode": {"labels": {"update": {"align": {"value": "center"}}}}}
                }
              }
            }
          ]
        },
        {
          "width": 254,
          "height": 641,
          "view": {"stroke": null},
          "title": {"text": "C", "anchor": "start", "frame": "group", "fontSize": 46, "offset": -42, "baseline": "bottom", "dx": 38},
          "data": {"values": [{"label": ""}]},
          "mark": {"type": "text"},
          "encoding": {"text": {"field": "label", "type": "nominal"}}
        },
        {
          "width": 538,
          "height": 641,
          "view": {"stroke": null},
          "title": {"text": "Citation per article", "anchor": "middle", "frame": "group", "fontSize": 45, "offset": -116, "baseline": "bottom", "dx": -52, "color": "#404040"},
          "data": {"name": "cpa"},
          "encoding": {
            "theta": {"field": "v", "type": "quantitative", "stack": true},
            "order": {"field": "rank", "type": "ordinal"},
            "x": {"value": 269},
            "y": {"value": 360}
          },
          "layer": [
            {
              "mark": {"type": "arc", "outerRadius": 224, "stroke": "white", "strokeWidth": 5},
              "encoding": {
                "color": {
                  "field": "country",
                  "type": "nominal",
                  "scale": {
                    "domain": ["CHINA", "USA", "SOUTH KOREA", "GERMANY", "JAPAN", "ITALY", "ENGLAND", "IRAN", "INDIA", "SPAIN"],
                    "range": ["#4472c4", "#ed7d31", "#a5a5a5", "#ffc000", "#5b9bd5", "#70ad47", "#264478", "#9e480e", "#636363", "#997300"]
                  },
                  "legend": {"title": null, "orient": "none", "legendX": -249, "legendY": 104, "symbolType": "square", "symbolSize": 100, "symbolStrokeWidth": 0, "labelFontSize": 29, "labelFontStyle": "italic", "labelColor": "#333333", "labelOffset": 2, "rowPadding": 19, "labelLimit": 300}
                }
              }
            },
            {
              "mark": {"type": "text", "radius": 178, "fontSize": 27, "fontWeight": "bold", "color": "#333333"},
              "encoding": {"text": {"field": "v", "type": "quantitative"}}
            }
          ]
        }
      ]
    },
    {
      "width": 1650,
      "height": 978,
      "title": {"text": "D", "anchor": "start", "frame": "group", "fontSize": 46, "offset": -49, "baseline": "bottom", "dx": 3},
      "data": {"name": "hindex"},
      "encoding": {
        "x": {
          "field": "country",
          "type": "nominal",
          "sort": null,
          "scale": {"type": "point", "padding": 0, "range": [147, 1568]},
          "axis": {
            "title": "H-index", "titleFontSize": 60, "titleFontWeight": "normal", "titleColor": "#404040", "titleX": 829, "titleY": -606, "titleBaseline": "middle", "titleAlign": "center",
            "orient": "bottom", "offset": -298, "labelAngle": -43, "labelAlign": "right", "labelBaseline": "middle", "labelFontSize": 40, "labelFontStyle": "italic", "labelColor": "#333333", "labelPadding": 22, "labelLimit": 600, "tickSize": 14, "tickColor": "#c8c8c8", "tickWidth": 2, "domainColor": "#c8c8c8", "domainWidth": 2
          }
        }
      },
      "layer": [
        {
          "mark": {"type": "area", "color": "#70ad47"},
          "encoding": {
            "y": {
              "field": "h",
              "type": "quantitative",
              "scale": {"domain": [0, 140], "range": [680, 164], "nice": false},
              "axis": {"title": null, "orient": "left", "offset": -147, "values": [0, 20, 40, 60, 80, 100, 120, 140], "tickSize": -1421, "tickColor": "#cfcfcf", "tickWidth": 3, "domain": false, "grid": false, "labelPadding": 1461, "labelFontSize": 36, "labelColor": "#404040"}
            }
          }
        },
        {
          "mark": {"type": "text", "fontSize": 39, "color": "#333333"},
          "encoding": {
            "y": {"field": "h", "type": "quantitative", "scale": {"domain": [0, 280], "range": [680, 164], "nice": false}, "axis": null},
            "text": {"field": "h", "type": "quantitative"}
          }
        }
      ],
      "resolve": {"scale": {"y": "independent"}}
    }
  ]
}
